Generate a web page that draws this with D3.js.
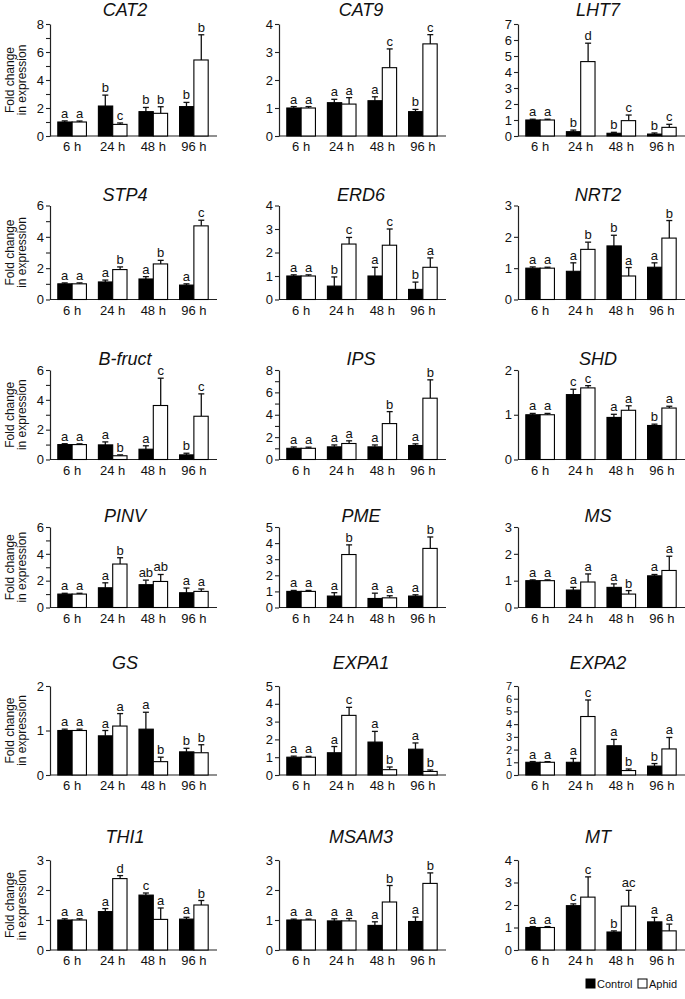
<!DOCTYPE html>
<html>
<head>
<meta charset="utf-8">
<script src="https://cdn.jsdelivr.net/npm/d3@7"></script>
<style>
  html, body { margin: 0; padding: 0; background: #fff; }
  svg text { font-family: "Liberation Sans", Arial, sans-serif; fill: #111; }
</style>
</head>
<body>
<svg id="chart" width="685" height="999"></svg>
<script>
// ---------------- DATA ----------------
const genes = ["CAT2","CAT9","LHT7","STP4","ERD6","NRT2","B-fruct","IPS","SHD",
               "PINV","PME","MS","GS","EXPA1","EXPA2","THI1","MSAM3","MT"];
const timepoints = ["6 h","24 h","48 h","96 h"];
const seriesNames = ["Control","Aphid"];
const yMax     = [8,4,7, 6,4,3, 6,8,2, 6,5,3, 2,5,7, 3,3,4];
const tickStep = [2,1,1, 2,1,1, 2,2,1, 2,1,1, 1,1,1, 1,1,1];

const controlMean = [
  [1.0,2.14,1.74,2.1],[1.0,1.19,1.26,0.87],[1.0,0.27,0.17,0.12],
  [1.0,1.12,1.31,0.92],[1.0,0.57,1.0,0.43],[1.0,0.9,1.71,1.03],
  [1.0,0.98,0.69,0.31],[1.0,1.13,1.13,1.25],[1.0,1.45,0.94,0.76],
  [1.0,1.47,1.7,1.1],[1.0,0.71,0.56,0.71],[1.0,0.65,0.75,1.18],
  [1.0,0.88,1.03,0.52],[1.0,1.25,1.85,1.45],[1.0,1.0,2.3,0.7],
  [1.0,1.28,1.83,1.03],[1.0,0.97,0.82,0.95],[1.0,1.97,0.8,1.25]
];
const controlErr = [
  [0.08,0.78,0.3,0.3],[0.05,0.12,0.14,0.08],[0.05,0.1,0.06,0.07],
  [0.06,0.12,0.15,0.08],[0.05,0.39,0.37,0.31],[0.04,0.27,0.34,0.14],
  [0.06,0.2,0.23,0.11],[0.12,0.17,0.17,0.15],[0.03,0.12,0.07,0.03],
  [0.06,0.37,0.34,0.35],[0.06,0.21,0.33,0.08],[0.03,0.1,0.13,0.05],
  [0.03,0.12,0.38,0.08],[0.06,0.35,0.6,0.35],[0.06,0.3,0.5,0.2],
  [0.04,0.1,0.07,0.06],[0.03,0.07,0.12,0.15],[0.04,0.08,0.05,0.2]
];
const aphidMean = [
  [1.0,0.83,1.62,5.43],[1.0,1.14,2.44,3.29],[1.0,4.65,0.96,0.54],
  [1.0,1.91,2.27,4.7],[1.0,2.36,2.31,1.37],[1.0,1.6,0.75,1.96],
  [1.0,0.25,3.62,2.9],[1.0,1.43,3.21,5.48],[1.0,1.6,1.1,1.15],
  [1.0,3.24,1.94,1.2],[1.0,3.29,0.6,3.67],[1.0,0.95,0.5,1.38],
  [1.0,1.1,0.3,0.5],[1.0,3.35,0.3,0.2],[1.0,4.6,0.35,2.05],
  [1.0,2.38,1.02,1.5],[1.0,0.97,1.6,2.22],[1.0,2.35,1.95,0.85]
];
const aphidErr = [
  [0.07,0.1,0.47,1.8],[0.05,0.23,0.67,0.33],[0.05,1.15,0.35,0.19],
  [0.06,0.17,0.23,0.36],[0.05,0.28,0.69,0.4],[0.03,0.23,0.27,0.56],
  [0.05,0.06,1.83,1.5],[0.1,0.24,1.07,1.64],[0.03,0.05,0.1,0.04],
  [0.06,0.47,0.52,0.18],[0.06,0.6,0.13,0.71],[0.03,0.3,0.13,0.53],
  [0.03,0.28,0.1,0.18],[0.05,0.45,0.15,0.08],[0.05,1.3,0.12,0.9],
  [0.04,0.1,0.38,0.15],[0.03,0.08,0.55,0.35],[0.04,0.9,0.7,0.3]
];
const controlLetters = [
  ["a","b","b","b"],["a","a","a","b"],["a","b","b","b"],
  ["a","a","a","a"],["a","b","a","b"],["a","a","b","a"],
  ["a","a","a","b"],["a","a","a","a"],["a","c","a","b"],
  ["a","a","ab","a"],["a","a","a","a"],["a","a","a","a"],
  ["a","a","a","b"],["a","a","a","a"],["a","a","a","b"],
  ["a","a","c","a"],["a","a","a","a"],["a","c","b","a"]
];
const aphidLetters = [
  ["a","c","b","b"],["a","a","c","c"],["a","d","c","c"],
  ["a","b","b","c"],["a","c","c","a"],["a","b","a","b"],
  ["a","b","c","c"],["a","a","b","b"],["a","c","a","a"],
  ["a","b","ab","a"],["a","b","a","b"],["a","a","b","a"],
  ["a","a","b","b"],["a","c","b","b"],["a","c","b","a"],
  ["a","d","a","b"],["a","a","b","b"],["a","c","ac","a"]
];

// ---------------- LAYOUT ----------------
const colX0 = [50, 279, 518];
const plotW = 166;
const titleCx = [125, 361, 598];
const rowTop  = [24, 205.5, 370, 527, 686, 860];
const rowBase = [136, 299.5, 459.5, 607.5, 775, 950];
const titleBase = [15.5, 201, 365, 522, 669, 843];

const svg = d3.select("#chart");

genes.forEach((gene, i) => {
  const r = Math.floor(i / 3), c = i % 3;
  const x0 = colX0[c];
  const g = svg.append("g");

  const x = d3.scaleBand().domain(timepoints)
    .range([x0, x0 + plotW]).paddingInner(0.27).paddingOuter(0.18);
  const y = d3.scaleLinear().domain([0, yMax[i]]).range([rowBase[r], rowTop[r]]);
  const bw = x.bandwidth() / 2;
  const tickVals = d3.range(0, yMax[i] + 0.001, tickStep[i]);
  const spacing = (rowBase[r] - rowTop[r]) / (tickVals.length - 1);
  const tickFont = spacing < 14 ? 11 : 13;

  // minor ticks (unlabelled, every unit)
  if (tickStep[i] > 1) {
    const minor = d3.range(1, yMax[i], 2);
    g.append("g").attr("transform", `translate(${x0},0)`)
      .call(d3.axisLeft(y).tickValues(minor).tickSize(4).tickFormat(""))
      .call(a => a.select(".domain").remove())
      .call(a => a.selectAll("line").attr("stroke", "#222").attr("stroke-width", 1.1));
  }
  // y axis
  const yAxis = g.append("g").attr("transform", `translate(${x0},0)`)
    .call(d3.axisLeft(y).tickValues(tickVals)
      .tickSize(4).tickSizeOuter(0).tickPadding(2).tickFormat(d3.format("d")));
  yAxis.select(".domain").attr("stroke", "#222").attr("stroke-width", 1.2);
  yAxis.selectAll("line").attr("stroke", "#222").attr("stroke-width", 1.1);
  yAxis.selectAll("text").attr("font-size", tickFont).style("fill", "#111")
    .attr("font-family", "Liberation Sans, Arial, sans-serif");

  // x axis
  const xAxis = g.append("g").attr("transform", `translate(0,${rowBase[r]})`)
    .call(d3.axisBottom(x).tickSize(0).tickPadding(6));
  xAxis.select(".domain").attr("stroke", "#222").attr("stroke-width", 1.2)
    .attr("d", `M${x0},0H${x0 + plotW + 1}`);
  xAxis.selectAll("text").attr("font-size", 13).style("fill", "#111")
    .attr("font-family", "Liberation Sans, Arial, sans-serif");

  // bars data
  const rows = [];
  timepoints.forEach((t, k) => {
    rows.push({t, s: 0, m: controlMean[i][k], e: controlErr[i][k], l: controlLetters[i][k]});
    rows.push({t, s: 1, m: aphidMean[i][k], e: aphidErr[i][k], l: aphidLetters[i][k]});
  });

  // error bars
  rows.forEach(d => {
    const cx = x(d.t) + d.s * bw + bw / 2;
    const yt = y(d.m + d.e);
    g.append("line").attr("x1", cx).attr("x2", cx)
      .attr("y1", y(d.m)).attr("y2", yt).attr("stroke", "#111").attr("stroke-width", 1.3);
    g.append("line").attr("x1", cx - 3).attr("x2", cx + 3)
      .attr("y1", yt).attr("y2", yt).attr("stroke", "#111").attr("stroke-width", 1.3);
  });

  g.selectAll("rect.bar").data(rows).join("rect")
    .attr("class", "bar")
    .attr("x", d => x(d.t) + d.s * bw + (d.s ? 0 : 0.5))
    .attr("y", d => y(d.m))
    .attr("width", bw - 0.5)
    .attr("height", d => y(0) - y(d.m))
    .attr("fill", d => d.s ? "#fff" : "#000")
    .attr("stroke", "#000").attr("stroke-width", 1.1);

  // letters
  g.selectAll("text.sig").data(rows).join("text")
    .attr("class", "sig")
    .attr("x", d => x(d.t) + d.s * bw + bw / 2)
    .attr("y", d => y(d.m + d.e) - 3)
    .attr("text-anchor", "middle").attr("font-size", 13)
    .text(d => d.l);

  // title
  g.append("text").attr("x", titleCx[c]).attr("y", titleBase[r])
    .attr("text-anchor", "middle").attr("font-size", 18).attr("font-style", "italic")
    .text(gene);

  // y label for first column
  if (c === 0) {
    const cy = (rowTop[r] + rowBase[r]) / 2;
    const yl = g.append("text").attr("transform", `translate(14,${cy}) rotate(-90)`)
      .attr("text-anchor", "middle").attr("font-size", 12);
    yl.append("tspan").attr("x", 0).attr("y", 0).text("Fold change");
    yl.append("tspan").attr("x", 0).attr("y", 11.5).text("in expression");
  }
});

// legend
const leg = svg.append("g").attr("transform", "translate(586,979)");
seriesNames.forEach((name, k) => {
  const lx = k * 52;
  leg.append("rect").attr("x", lx).attr("y", 0).attr("width", 9).attr("height", 9)
    .attr("fill", k ? "#fff" : "#000").attr("stroke", "#000").attr("stroke-width", 1);
  leg.append("text").attr("x", lx + 11).attr("y", 9).attr("font-size", 11).text(name);
});
</script>
</body>
</html>
